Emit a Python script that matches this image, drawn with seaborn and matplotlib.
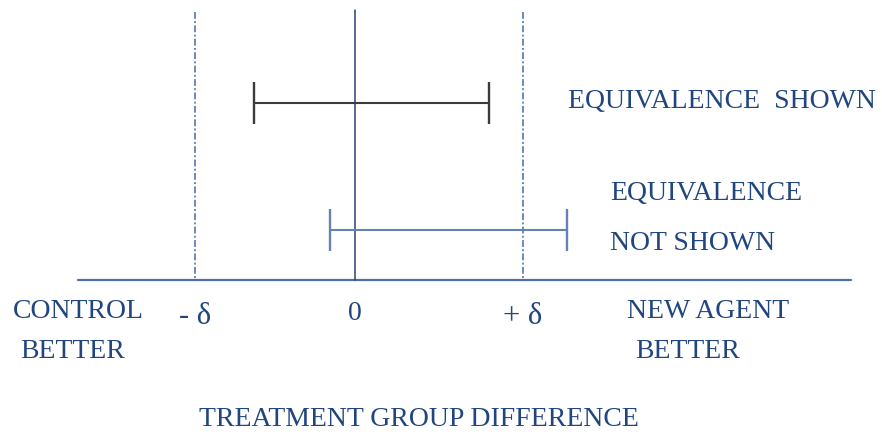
#Esquema de prueba de equivalencia

import matplotlib.pyplot as plt
import seaborn as sns
import pandas as pd

sns.set_theme(style='white')   #Estilo sin grilla
plt.rcParams['font.family'] = ['Liberation Serif', 'DejaVu Serif']

# Datos (diferencia de tratamiento, en unidades de delta)
margenes = [-0.95, 1.0]                    # -delta, +delta
etiquetas_margen = ['- δ', '+ δ']
intervalo_lo = [-0.60, -0.15]
intervalo_hi = [0.80, 1.26]
filas = [103, 230]                          # posicion vertical de cada intervalo
colores_ic = ['#3b3b3b', '#6482b3']
textos_ic = [['EQUIVALENCE  SHOWN'], ['EQUIVALENCE', 'NOT SHOWN']]

df = pd.DataFrame({'lo': intervalo_lo, 'hi': intervalo_hi, 'fila': filas, 'color': colores_ic})
df['centro'] = (df['lo'] + df['hi']) / 2
df['semi'] = (df['hi'] - df['lo']) / 2

azul_texto = '#21467f'

fig, ax = plt.subplots(figsize=(8.82, 4.34), dpi=100)
ax.set_position([0, 0, 1, 1])
ax.set_xlim(-2.113, 3.137)
ax.set_ylim(434, 0)

# Linea del eje y lineas de referencia
ax.plot([-1.65, 2.95], [280, 280], color='#4f6fa0', lw=1.6)
ax.plot([0, 0], [10, 280], color='#2b4470', lw=1.1)
for m in margenes:
    ax.plot([m, m], [12, 280], color='#6c8ab8', lw=1.4, ls=(0, (3.5, 1.2, 1, 1.2)))

# Intervalos de confianza
for _, r in df.iterrows():
    ax.errorbar(r['centro'], r['fila'], xerr=r['semi'], fmt='none', ecolor=r['color'],
                elinewidth=1.5, capsize=15, capthick=1.7)

kw = dict(color=azul_texto, fontsize=20, va='center')
ax.text(1.27, 102, textos_ic[0][0], ha='left', **kw)
ax.text(1.52, 193, textos_ic[1][0], ha='left', **kw)
ax.text(1.52, 243, textos_ic[1][1], ha='left', **kw)

# Etiquetas del eje
ax.text(0, 313, '0', ha='center', **kw)
ax.text(-0.95, 316, etiquetas_margen[0], ha='center', color=azul_texto, fontsize=22, va='center')
ax.text(1.0, 316, etiquetas_margen[1], ha='center', color=azul_texto, fontsize=22, va='center')
ax.text(-2.035, 311, 'CONTROL', ha='left', **kw)
ax.text(-1.995, 351, 'BETTER', ha='left', **kw)
ax.text(1.62, 311, 'NEW AGENT', ha='left', **kw)
ax.text(1.667, 351, 'BETTER', ha='left', **kw)
ax.text(0.38, 420, 'TREATMENT GROUP DIFFERENCE', ha='center', **kw)

ax.set_xticks([])
ax.set_yticks([])
sns.despine(left=True, bottom=True, top=True, right=True)

plt.savefig('out.png', dpi=100)
